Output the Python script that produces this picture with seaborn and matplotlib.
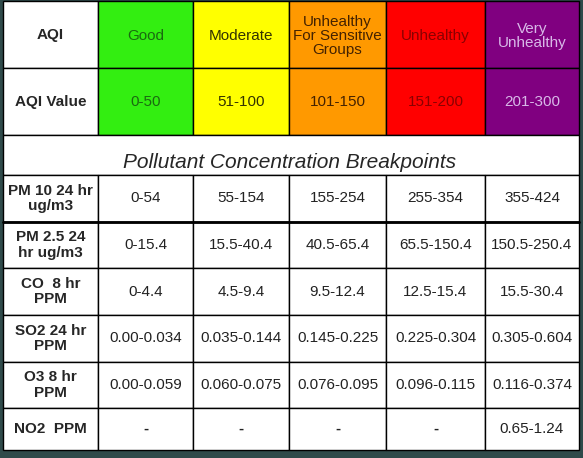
import matplotlib
matplotlib.use("Agg")
import matplotlib.pyplot as plt
import seaborn as sns
from matplotlib.patches import Rectangle

sns.set_style("white")
plt.rcParams['font.family'] = ['Liberation Sans', 'DejaVu Sans']

categories = ["Good", "Moderate", "Unhealthy\nFor Sensitive\nGroups", "Unhealthy", "Very\nUnhealthy"]
aqi_values = ["0-50", "51-100", "101-150", "151-200", "201-300"]
cat_colors = ["#33ee11", "#ffff00", "#ff9900", "#ff0000", "#800080"]
cat_text = ["#1a6a10", "#333300", "#442200", "#8a0000", "#d8b8e8"]
pollutants = ["PM 10 24 hr\nug/m3", "PM 2.5 24\nhr ug/m3", "CO  8 hr\nPPM", "SO2 24 hr\nPPM", "O3 8 hr\nPPM", "NO2  PPM"]
breakpoints = [
    ["0-54", "55-154", "155-254", "255-354", "355-424"],
    ["0-15.4", "15.5-40.4", "40.5-65.4", "65.5-150.4", "150.5-250.4"],
    ["0-4.4", "4.5-9.4", "9.5-12.4", "12.5-15.4", "15.5-30.4"],
    ["0.00-0.034", "0.035-0.144", "0.145-0.225", "0.225-0.304", "0.305-0.604"],
    ["0.00-0.059", "0.060-0.075", "0.076-0.095", "0.096-0.115", "0.116-0.374"],
    ["-", "-", "-", "-", "0.65-1.24"],
]

W, H = 583, 458
fig = plt.figure(figsize=(W/100, H/100), dpi=100)
ax = fig.add_axes([0, 0, 1, 1])
ax.set_xlim(0, W); ax.set_ylim(H, 0); ax.axis("off")
fig.patch.set_facecolor("#2f4a4a")
ax.add_patch(Rectangle((3, 1), 576, 449, facecolor="white", edgecolor="none"))

xs = [3, 98, 193, 289, 386, 485, 579]
ys_body = [175, 222, 268, 315, 362, 408, 450]

def cell(x0, x1, y0, y1, fc="white"):
    ax.add_patch(Rectangle((x0, y0), x1-x0, y1-y0, facecolor=fc, edgecolor="black", lw=1))

cell(xs[0], xs[1], 1, 68); cell(xs[0], xs[1], 68, 135)
ax.text((xs[0]+xs[1])/2, 35, "AQI", ha="center", va="center", fontsize=11, weight="bold")
ax.text((xs[0]+xs[1])/2, 102, "AQI Value", ha="center", va="center", fontsize=11, weight="bold")
for i in range(5):
    cx = (xs[i+1]+xs[i+2])/2
    cell(xs[i+1], xs[i+2], 1, 68, cat_colors[i]); cell(xs[i+1], xs[i+2], 68, 135, cat_colors[i])
    ax.text(cx, 36, categories[i], ha="center", va="center", fontsize=11, color=cat_text[i], linespacing=1.0)
    ax.text(cx, 102, aqi_values[i], ha="center", va="center", fontsize=11, color=cat_text[i])
cell(xs[0], xs[-1], 135, 175)
ax.text(290, 163, "Pollutant Concentration Breakpoints", ha="center", va="center", fontsize=15, style="italic")
for r in range(6):
    y0, y1 = ys_body[r], ys_body[r+1]
    cy = (y0+y1)/2
    cell(xs[0], xs[1], y0, y1)
    ax.text((xs[0]+xs[1])/2, cy, pollutants[r], ha="center", va="center", fontsize=11, weight="bold", linespacing=1.1)
    for i in range(5):
        cell(xs[i+1], xs[i+2], y0, y1)
        v = breakpoints[r][i]
        ax.text((xs[i+1]+xs[i+2])/2, cy, v, ha="center", va="center", fontsize=11,
                weight="bold" if v == "-" else "normal", color="#222222")
ax.plot([xs[0], xs[-1]], [222, 222], color="black", lw=2)
fig.savefig("out.png", dpi=100)
